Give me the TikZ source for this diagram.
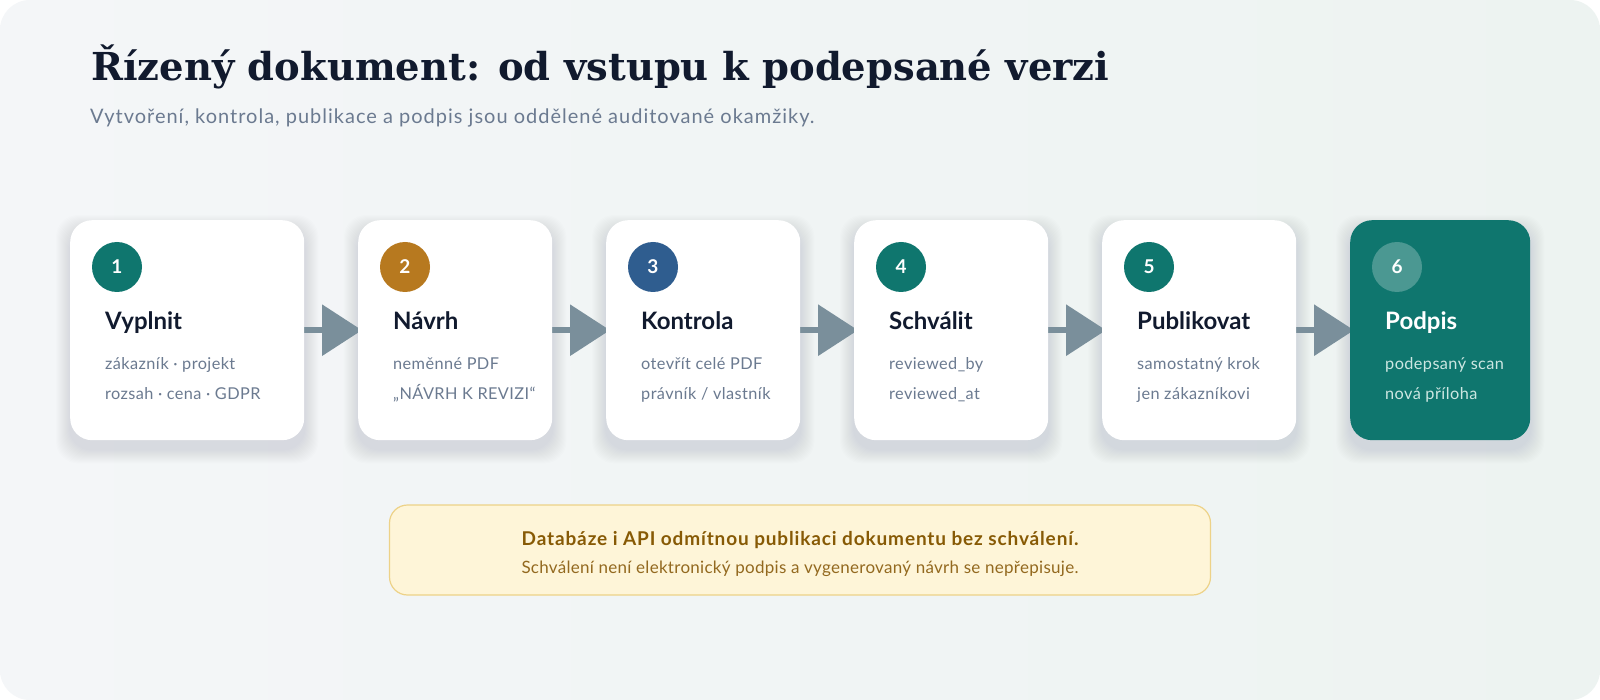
\documentclass[tikz,border=0pt]{standalone}
\usepackage{fontspec}
\setmainfont{Lato}
\newfontfamily\titlefont{DejaVu Serif}
\usetikzlibrary{arrows.meta,calc}
\pgfdeclarelayer{bg}
\pgfdeclarelayer{shad}
\pgfdeclarelayer{arr}
\pgfsetlayers{bg,shad,arr,main}
\definecolor{ink}{HTML}{111A2E}
\definecolor{muted}{HTML}{6B7A90}
\definecolor{stepteal}{HTML}{0F766E}
\definecolor{stepamber}{HTML}{B7791F}
\definecolor{stepnavy}{HTML}{2F5D8F}
\definecolor{arrowc}{HTML}{7A8F9B}
\definecolor{boxfill}{HTML}{FEF5D8}
\definecolor{boxline}{HTML}{EDD288}
\definecolor{boxtext}{HTML}{875A05}
\definecolor{boxtextb}{HTML}{93691F}
\definecolor{panelA}{HTML}{F4F6F8}
\definecolor{panelB}{HTML}{EDF3F1}
\definecolor{lightsub}{HTML}{CDE7E2}
\definecolor{shadowc}{HTML}{3A4A66}
\newcommand\cardshadow[1]{%
  \foreach \k in {1,...,14}{%
    \fill[shadowc, opacity=0.009, rounded corners=22pt]
      ($(#1.north west)+(-\k,9-\k)$) rectangle ($(#1.south east)+(\k,9+\k)$);}}
\begin{document}
\begin{tikzpicture}[x=1pt,y=-1pt,
  card/.style={draw=none, fill=white, rounded corners=22pt, minimum height=220pt,
    anchor=north west, inner sep=0pt},
  badge/.style={circle, minimum size=50pt, inner sep=0pt, text=white,
    font=\bfseries\fontsize{19}{19}\selectfont},
  steptitle/.style={anchor=base west, inner sep=0pt, text=ink,
    font=\bfseries\fontsize{24}{24}\selectfont},
  stepsub/.style={anchor=base west, inner sep=0pt, text=muted,
    font=\fontsize{16.3}{16.3}\selectfont\addfontfeature{LetterSpace=2.5}},
  flowarrow/.style={draw=arrowc, line width=6.5pt,
    -{Triangle[length=40pt,width=50pt]}, shorten >=-4pt}
]
\useasboundingbox (0,0) rectangle (1600,700);
\begin{pgfonlayer}{bg}
  \fill[white] (0,0) rectangle (1600,700);
  \shade[rounded corners=30pt, left color=panelA, right color=panelB] (0,0) rectangle (1600,700);
\end{pgfonlayer}

% title
\node[anchor=base west, inner sep=0pt, text=ink,
  font=\titlefont\bfseries\fontsize{38.5}{38.5}\selectfont] (title) at (91,81)
  {Řízený dokument: od vstupu k podepsané verzi};
\node[anchor=base west, inner sep=0pt, text=muted,
  font=\fontsize{20}{20}\selectfont\addfontfeature{LetterSpace=5}] (subtitle) at (90,124)
  {Vytvoření, kontrola, publikace a podpis jsou oddělené auditované okamžiky.};

% cards
\node[card, minimum width=234pt] (c1) at (70,220) {};
\node[card, minimum width=194pt] (c2) at (358,220) {};
\node[card, minimum width=194pt] (c3) at (606,220) {};
\node[card, minimum width=194pt] (c4) at (854,220) {};
\node[card, minimum width=194pt] (c5) at (1102,220) {};
\node[card, minimum width=180pt, fill=stepteal] (c6) at (1350,220) {};

% badges
\node[badge, fill=stepteal] (b1) at ($(c1.north west)+(47,47)$) {1};
\node[badge, fill=stepamber] (b2) at ($(c2.north west)+(47,47)$) {2};
\node[badge, fill=stepnavy] (b3) at ($(c3.north west)+(47,47)$) {3};
\node[badge, fill=stepteal] (b4) at ($(c4.north west)+(47,47)$) {4};
\node[badge, fill=stepteal] (b5) at ($(c5.north west)+(47,47)$) {5};
\node[badge, fill=white, fill opacity=0.25, text opacity=1] (b6) at ($(c6.north west)+(47,47)$) {6};

% titles
\node[steptitle] (t1) at ($(c1.north west)+(35,110)$) {Vyplnit};
\node[steptitle] (t2) at ($(c2.north west)+(35,110)$) {Návrh};
\node[steptitle] (t3) at ($(c3.north west)+(35,110)$) {Kontrola};
\node[steptitle] (t4) at ($(c4.north west)+(35,110)$) {Schválit};
\node[steptitle] (t5) at ($(c5.north west)+(35,110)$) {Publikovat};
\node[steptitle, text=white] (t6) at ($(c6.north west)+(35,110)$) {Podpis};

% sub lines
\node[stepsub] (s1a) at ($(c1.north west)+(35,150)$) {zákazník · projekt};
\node[stepsub] (s1b) at ($(c1.north west)+(35,179)$) {rozsah · cena · GDPR};
\node[stepsub] (s2a) at ($(c2.north west)+(35,150)$) {neměnné PDF};
\node[stepsub] (s2b) at ($(c2.north west)+(35,179)$) {„NÁVRH K REVIZI“};
\node[stepsub] (s3a) at ($(c3.north west)+(35,150)$) {otevřít celé PDF};
\node[stepsub] (s3b) at ($(c3.north west)+(35,179)$) {právník / vlastník};
\node[stepsub] (s4a) at ($(c4.north west)+(35,150)$) {reviewed\_by};
\node[stepsub] (s4b) at ($(c4.north west)+(35,179)$) {reviewed\_at};
\node[stepsub] (s5a) at ($(c5.north west)+(35,150)$) {samostatný krok};
\node[stepsub] (s5b) at ($(c5.north west)+(35,179)$) {jen zákazníkovi};
\node[stepsub, text=lightsub] (s6a) at ($(c6.north west)+(35,150)$) {podepsaný scan};
\node[stepsub, text=lightsub] (s6b) at ($(c6.north west)+(35,179)$) {nová příloha};

% shadows
\begin{pgfonlayer}{shad}
  \cardshadow{c1}\cardshadow{c2}\cardshadow{c3}
  \cardshadow{c4}\cardshadow{c5}\cardshadow{c6}
\end{pgfonlayer}

% arrows
\begin{pgfonlayer}{arr}
  \draw[flowarrow] (c1.east) -- (c2.west);
  \draw[flowarrow] (c2.east) -- (c3.west);
  \draw[flowarrow] (c3.east) -- (c4.west);
  \draw[flowarrow] (c4.east) -- (c5.west);
  \draw[flowarrow] (c5.east) -- (c6.west);
\end{pgfonlayer}

% info box
\node[draw=boxline, line width=1.2pt, fill=boxfill, rounded corners=18pt,
  minimum width=821pt, minimum height=90pt, inner sep=0pt] (info) at (800,550) {};
\node[anchor=base, inner sep=0pt, text=boxtext,
  font=\bfseries\fontsize{19}{19}\selectfont\addfontfeature{LetterSpace=4.5}] (i1) at (800,545)
  {Databáze i API odmítnou publikaci dokumentu bez schválení.};
\node[anchor=base, inner sep=0pt, text=boxtextb,
  font=\fontsize{17}{17}\selectfont\addfontfeature{LetterSpace=1.7}] (i2) at (800,573)
  {Schválení není elektronický podpis a vygenerovaný návrh se nepřepisuje.};
\end{tikzpicture}
\end{document}
